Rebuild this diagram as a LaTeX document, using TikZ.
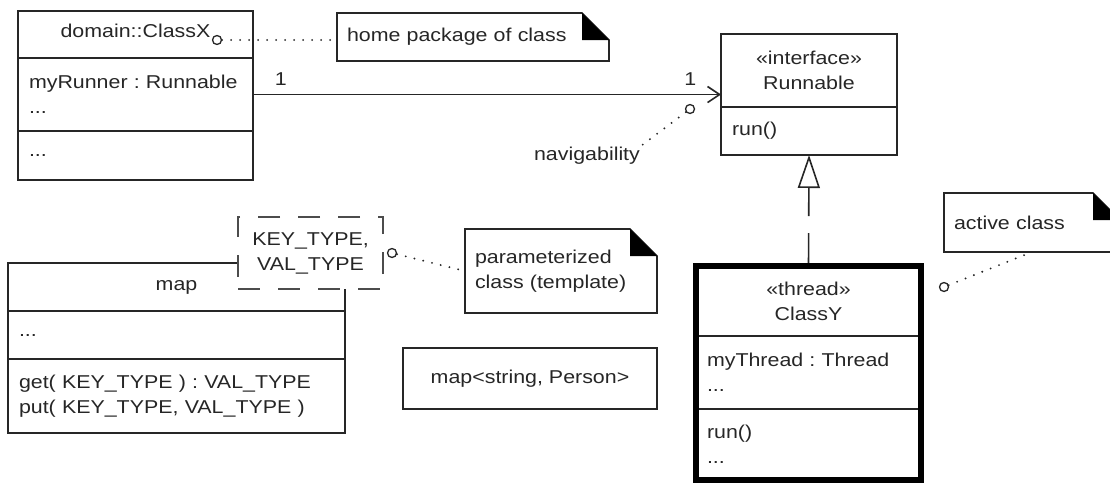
\documentclass[tikz,border=0pt]{standalone}
\usepackage{fontspec}
\setmainfont{Liberation Sans}[FakeStretch=1.15]
\usetikzlibrary{arrows.meta, positioning, calc}
\frenchspacing

\tikzset{
  umltext/.style={text=black!85, font=\fontsize{18.6}{25}\selectfont},
  compart/.style={umltext, draw=black!85, line width=1.6pt, inner sep=0pt, inner xsep=11pt, outer sep=0pt, anchor=north west},
  namebox/.style={compart, align=center},
  membox/.style={compart, align=left, text width=#1},
  notebox/.style={umltext, inner sep=0pt, inner xsep=10pt, outer sep=0pt, anchor=north west, align=left, text width=#1},
  pin/.style={circle, draw=black!85, line width=1.3pt, inner sep=0pt, minimum size=9pt},
  noteline/.style={draw=black!85, line width=2.1pt, line cap=round, dash pattern=on 0pt off 9pt},
  assoc/.style={draw=black!85, line width=1.6pt, -{Straight Barb[length=12pt, width=16pt]}},
  realize/.style={draw=black!85, line width=1.6pt, dash pattern=on 33pt off 17pt, -{Triangle[open, length=33pt, width=22pt]}},
}

\begin{document}
\begin{tikzpicture}[x=1pt, y=-1pt]
\useasboundingbox (0,0) rectangle (1110,482);
% Note outline with black folded corner
\def\foldnote#1{
    % #1 = note node
    \draw[draw=black!85, line width=1.6pt] (#1.north west) -- ([xshift=-27pt]#1.north east) -- ([yshift=-27pt]#1.north east) -- (#1.south east) -- (#1.south west) -- cycle;
    \fill[black] ([xshift=-27pt]#1.north east) -- ([xshift=-27pt, yshift=-27pt]#1.north east) -- ([yshift=-27pt]#1.north east) -- cycle;
}

% ClassX
\node[namebox, minimum width=235pt, minimum height=47pt, text depth=8pt] (xname) at (18,11) {domain::ClassX};
\node[membox=213pt, minimum height=73pt] (xattr) at (18,58) {myRunner : Runnable\\...};
\node[membox=213pt, minimum height=49pt] (xoper) at (18,131) {...};

% Runnable
\node[namebox, minimum width=176pt, minimum height=73pt] (rname) at (721,34) {«interface»\\Runnable};
\node[membox=154pt, minimum height=48pt] (roper) at (721,107) {run()};

% ClassY (active)
\node[namebox, minimum width=225pt, minimum height=70pt] (yname) at (696,266) {«thread»\\ClassY};
\node[membox=203pt, minimum height=73pt] (yattr) at (696,336) {myThread : Thread\\...};
\node[membox=203pt, minimum height=71pt] (yoper) at (696,409) {run()\\...};

% map template
\node[namebox, minimum width=337pt, minimum height=48pt] (mname) at (8,263) {map};
\node[membox=315pt, minimum height=48pt] (mattr) at (8,311) {...};
\node[membox=315pt, minimum height=74pt] (moper) at (8,359) {get( KEY\_TYPE ) : VAL\_TYPE\\put( KEY\_TYPE, VAL\_TYPE )};
\node[namebox, draw=black!70, dash pattern=on 22pt off 18pt, fill=white, minimum width=145pt, minimum height=72pt] (tparam) at (238,217) {KEY\_TYPE,\\VAL\_TYPE};

\node[namebox, minimum width=254pt, minimum height=61pt] (mapinst) at (403,348) {map<string, Person>};

% Notes
\node[notebox=252pt, minimum height=48pt] (homenote) at (337,13) {home package of class};
\node[notebox=172pt, minimum height=84pt] (paramnote) at (465,229) {parameterized\\class (template)};
\node[notebox=156pt, minimum height=59pt] (activenote) at (944,193) {active class};
\foldnote{homenote}
\foldnote{paramnote}
\foldnote{activenote}

% Relations
\draw[assoc] (xattr.east) -- (xattr.east -| rname.west)
    node[pos=0, anchor=south west, umltext, inner sep=0pt, xshift=21pt, yshift=8pt] {1}
    node[pos=1, anchor=south east, umltext, inner sep=0pt, xshift=-24pt, yshift=8pt] {1};
\draw[realize] (yname.north) -- (roper.south);
\draw[line width=6pt, draw=black] (yname.north west) rectangle (yoper.south east);

% Pins and note links
\node[pin] (homepin) at (217,40) {};
\node[pin] (navpin) at (690,109) {};
\node[pin] (tparampin) at (392,253) {};
\node[pin] (activepin) at (944,287) {};
\node[umltext, inner sep=2pt] (navlabel) at (587,156) {navigability};
\draw[noteline] (homepin) -- (homepin -| homenote.west);
\draw[noteline] (navpin) -- (navlabel.north east);
\draw[noteline] (tparampin) -- (paramnote.west);
\draw[noteline] (activepin) -- (activenote.south);
\end{tikzpicture}
\end{document}
